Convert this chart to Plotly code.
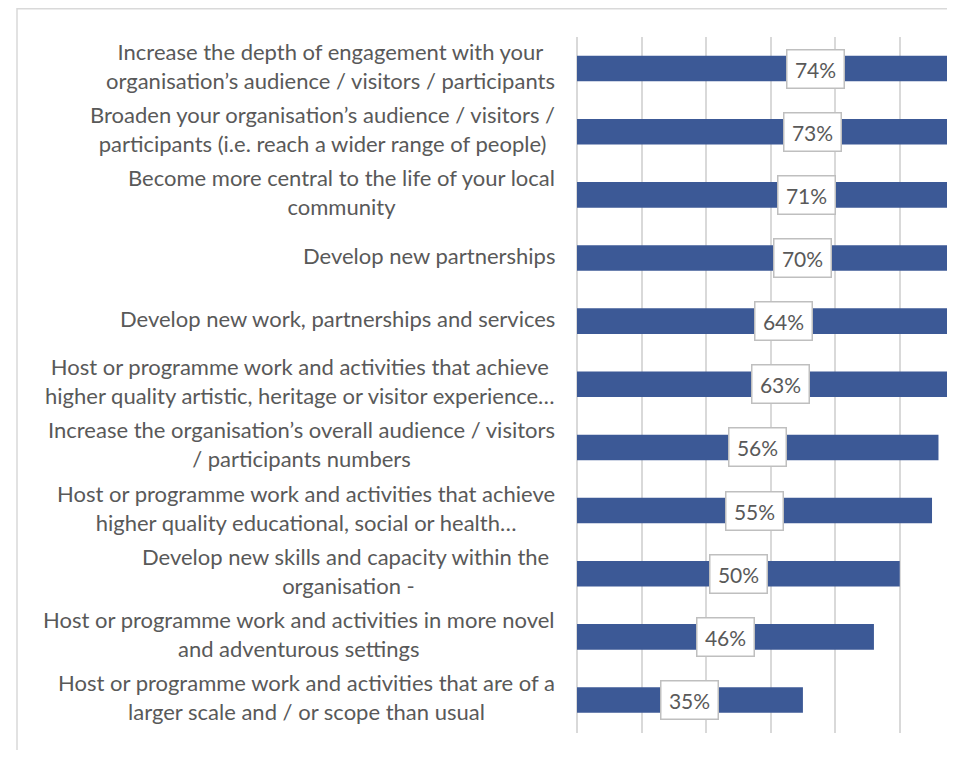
import plotly.graph_objects as go

categories = [
    "Increase the depth of engagement with your<br>organisation’s audience / visitors / participants",
    "Broaden your organisation’s audience / visitors /<br>participants (i.e. reach a wider range of people)",
    "Become more central to the life of your local<br>community",
    "Develop new partnerships",
    "Develop new work, partnerships and services",
    "Host or programme work and activities that achieve<br>higher quality artistic, heritage or visitor experience…",
    "Increase the organisation’s overall audience / visitors<br>/ participants numbers",
    "Host or programme work and activities that achieve<br>higher quality educational, social or health…",
    "Develop new skills and capacity within the\u00a0<br>organisation -",
    "Host or programme work and activities in more novel<br>and adventurous settings",
    "Host or programme work and activities that are of a<br>larger scale and / or scope than usual",
]
values = [74, 73, 71, 70, 64, 63, 56, 55, 50, 46, 35]
value_labels = [f"{v}%" for v in values]

BAR = "#3c5996"
TXT = "#595959"
GRID = "#d9d9d9"
FONT = "Lato"

# page body has an 8px margin; figure coordinates are offset by 8px
W, H = 947, 742
L, R, T, B = 569, 4, 29, 17
pw, ph = W - L - R, H - T - B

fig = go.Figure()
fig.add_trace(go.Bar(
    x=values, y=categories, orientation="h",
    marker=dict(color=BAR, line=dict(width=0)),
    hoverinfo="skip",
))

annotations = []
for cat, v, lab in zip(categories, values, value_labels):
    annotations.append(dict(
        x=v / 2, y=cat, xref="x", yref="y", text=lab, showarrow=False,
        font=dict(family=FONT, size=21, color=TXT),
        bgcolor="white", bordercolor="#bfbfbf", borderwidth=1.5,
        width=54, height=35, borderpad=1, xanchor="center", yanchor="middle",
    ))
    annotations.append(dict(
        x=0, y=cat, xref="paper", yref="y", text=cat, showarrow=False,
        font=dict(family=FONT, size=22, color=TXT),
        xanchor="right", yanchor="middle", align="center", xshift=-20, yshift=3,
    ))

def px(p):
    return (p - L) / pw

def py(q):
    return (H - B - q) / ph

fig.update_layout(
    width=W, height=H,
    margin=dict(l=L, r=R, t=T, b=B, pad=0),
    paper_bgcolor="white", plot_bgcolor="white",
    showlegend=False,
    bargap=0.595,
    font=dict(family=FONT, color=TXT),
    xaxis=dict(range=[0, 57.94], dtick=10, showgrid=True, gridcolor=GRID, gridwidth=1.5,
               zeroline=True, zerolinecolor=GRID, zerolinewidth=1.5,
               showticklabels=False, showline=False, fixedrange=True),
    yaxis=dict(autorange="reversed", showticklabels=False, showgrid=False,
               showline=False, zeroline=False, fixedrange=True),
    annotations=annotations,
    shapes=[
        dict(type="line", xref="paper", yref="paper", x0=px(9), x1=px(943), y0=py(0.7), y1=py(0.7),
             line=dict(color=GRID, width=1.5)),
        dict(type="line", xref="paper", yref="paper", x0=px(9), x1=px(9), y0=py(0), y1=py(H),
             line=dict(color=GRID, width=1.5)),
    ],
)

fig.write_html("out.html")
